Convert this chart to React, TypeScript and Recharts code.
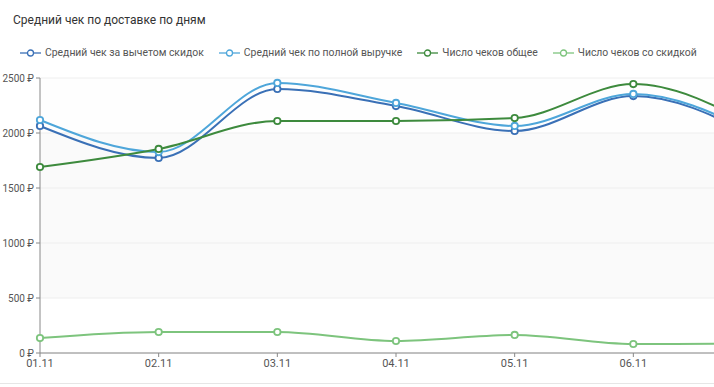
import { LineChart, Line, XAxis, YAxis, CartesianGrid } from 'recharts';

const days = ['01.11', '02.11', '03.11', '04.11', '05.11', '06.11', '07.11'];
const avgNet = [2064, 1773, 2400, 2245, 2018, 2336, 1990];
const avgFull = [2118, 1827, 2455, 2273, 2064, 2355, 2020];
const checksTotal = [1691, 1855, 2109, 2109, 2136, 2445, 2080];
const checksDiscount = [136, 191, 191, 109, 164, 82, 85];
const yTicks = [0, 500, 1000, 1500, 2000, 2500];

const series = [
  { key: 'avgNet', name: 'Средний чек за вычетом скидок', color: '#3a70b6' },
  { key: 'avgFull', name: 'Средний чек по полной выручке', color: '#4ea6da' },
  { key: 'checksTotal', name: 'Число чеков общее', color: '#3d8a3d' },
  { key: 'checksDiscount', name: 'Число чеков со скидкой', color: '#7dc47d' },
];

const data = days.map((day, i) => ({
  day,
  avgNet: avgNet[i],
  avgFull: avgFull[i],
  checksTotal: checksTotal[i],
  checksDiscount: checksDiscount[i],
}));

const LegendIcon = ({ color }: { color: string }) => (
  <svg width="21" height="10" style={{ marginRight: 4 }}>
    <line x1="0" y1="5" x2="21" y2="5" stroke={color} strokeWidth={1.3} />
    <circle cx="10.5" cy="5" r="3" fill="#fff" stroke={color} strokeWidth={1.3} />
  </svg>
);

const YTick = ({ x, y, payload }: any) => (
  <text x={x} y={y} dy={4} textAnchor="end" fontSize={10} fill="#555">
    {`${payload.value} ₽`}
  </text>
);

export default function App() {
  return (
    <div
      style={{
        position: 'fixed',
        left: 0,
        top: 0,
        width: 714,
        height: 387,
        overflow: 'hidden',
        background: '#fff',
        fontFamily: 'Roboto, sans-serif',
      }}
    >
      <div style={{ position: 'absolute', left: 13, top: 13, fontSize: 12, color: '#333' }}>
        Средний чек по доставке по дням
      </div>
      <div
        style={{
          position: 'absolute',
          left: 20,
          top: 46,
          display: 'flex',
          alignItems: 'center',
          fontSize: 10.4,
          color: '#555',
          whiteSpace: 'nowrap',
        }}
      >
        {series.map((s) => (
          <div key={s.key} style={{ display: 'flex', alignItems: 'center', marginRight: 15 }}>
            <LegendIcon color={s.color} />
            <span>{s.name}</span>
          </div>
        ))}
      </div>
      <div style={{ position: 'absolute', left: 0, top: 0 }}>
        <LineChart width={770} height={387} data={data} margin={{ top: 78, right: 18, bottom: 4, left: 0 }}>
          <CartesianGrid
            vertical={false}
            stroke="#eeeeee"
            horizontalFill={['#fefefe', '#fafafa', '#fafafa', '#fafafa', '#ffffff']}
          />
          <XAxis
            dataKey="day"
            height={30}
            stroke="#888"
            tickSize={4}
            tick={{ fill: '#555', fontSize: 11 }}
            interval={0}
          />
          <YAxis
            width={40}
            domain={[0, 2500]}
            ticks={yTicks}
            stroke="#888"
            tickSize={4}
            tick={<YTick />}
          />
          {series.map((s) => (
            <Line
              key={s.key}
              type="monotone"
              dataKey={s.key}
              name={s.name}
              stroke={s.color}
              strokeWidth={2}
              dot={{ r: 3.2, fill: '#fff', stroke: s.color, strokeWidth: 1.8 }}
              isAnimationActive={false}
            />
          ))}
        </LineChart>
      </div>
      <div style={{ position: 'absolute', left: 0, top: 383, width: 714, height: 1, background: '#e6e6e6' }} />
    </div>
  );
}
